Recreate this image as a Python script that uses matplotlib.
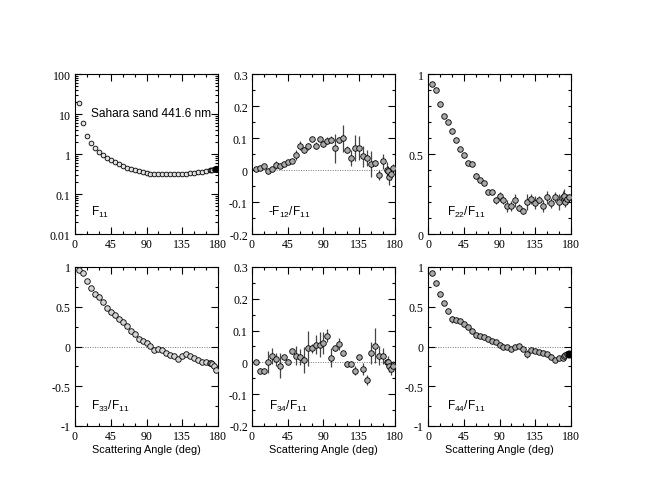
import matplotlib
matplotlib.use("Agg")
import matplotlib.pyplot as plt
from matplotlib.ticker import MultipleLocator, FixedLocator, LogLocator, NullFormatter

plt.rcParams["font.family"] = ["Liberation Sans", "DejaVu Sans"]
plt.rcParams["mathtext.fontset"] = "custom"
plt.rcParams["mathtext.rm"] = "Liberation Sans"
plt.rcParams["mathtext.it"] = "Liberation Sans"
plt.rcParams["axes.linewidth"] = 0.8

# scattering angles (deg)
angle = [5, 10, 15, 20, 25, 30, 35, 40, 45, 50, 55, 60, 65, 70, 75, 80, 85, 90,
         95, 100, 105, 110, 115, 120, 125, 130, 135, 140, 145, 150, 155, 160, 165,
         170, 171, 173, 175, 177]

f11 = [18.5, 5.9, 2.75, 1.85, 1.38, 1.12, 0.95, 0.81, 0.71, 0.62, 0.55, 0.50,
       0.455, 0.42, 0.39, 0.37, 0.35, 0.335, 0.325, 0.318, 0.313, 0.31, 0.31,
       0.31, 0.312, 0.315, 0.32, 0.325, 0.33, 0.34, 0.35, 0.36, 0.375, 0.39,
       0.395, 0.40, 0.41, 0.42]

f12 = [0.003, 0.005, 0.011, -0.002, 0.002, 0.015, 0.014, 0.019, 0.026, 0.027,
       0.047, 0.076, 0.062, 0.074, 0.097, 0.076, 0.097, 0.081, 0.092, 0.095,
       0.068, 0.093, 0.099, 0.064, 0.036, 0.068, 0.069, 0.043, 0.038, 0.018,
       0.021, -0.016, 0.027, 0.0, -0.002, -0.023, -0.012, 0.005]
f12_err = [0.005, 0.005, 0.005, 0.005, 0.005, 0.013, 0.005, 0.005, 0.005, 0.005,
           0.015, 0.015, 0.01, 0.01, 0.005, 0.01, 0.005, 0.01, 0.01, 0.01,
           0.045, 0.01, 0.043, 0.01, 0.025, 0.04, 0.038, 0.033, 0.025, 0.04,
           0.01, 0.015, 0.023, 0.025, 0.015, 0.025, 0.02, 0.015]

f22 = [0.94, 0.90, 0.81, 0.74, 0.70, 0.645, 0.59, 0.53, 0.495, 0.445, 0.435,
       0.365, 0.34, 0.32, 0.26, 0.265, 0.21, 0.235, 0.21, 0.175, 0.175, 0.21,
       0.165, 0.145, 0.20, 0.22, 0.195, 0.215, 0.175, 0.23, 0.195, 0.23, 0.20,
       0.23, 0.24, 0.20, 0.22, 0.23]
f22_err = [0.005, 0.005, 0.005, 0.005, 0.005, 0.005, 0.005, 0.005, 0.01, 0.01,
           0.01, 0.015, 0.01, 0.01, 0.01, 0.01, 0.02, 0.03, 0.02, 0.04, 0.03,
           0.04, 0.02, 0.02, 0.05, 0.03, 0.04, 0.02, 0.04, 0.04, 0.03, 0.03,
           0.05, 0.04, 0.04, 0.03, 0.03, 0.02]

f33 = [0.96, 0.93, 0.83, 0.73, 0.66, 0.62, 0.56, 0.49, 0.43, 0.39, 0.35, 0.31,
       0.26, 0.20, 0.16, 0.10, 0.07, 0.04, 0.01, -0.05, -0.03, -0.05, -0.08,
       -0.11, -0.12, -0.16, -0.115, -0.09, -0.115, -0.14, -0.17, -0.19, -0.20,
       -0.21, -0.21, -0.22, -0.24, -0.29]
f33_err = [0.01, 0.01, 0.01, 0.01, 0.01, 0.01, 0.01, 0.01, 0.01, 0.01, 0.01,
           0.01, 0.01, 0.01, 0.01, 0.01, 0.01, 0.01, 0.01, 0.01, 0.01, 0.01,
           0.01, 0.01, 0.01, 0.02, 0.01, 0.01, 0.01, 0.01, 0.01, 0.01, 0.01,
           0.01, 0.01, 0.02, 0.02, 0.02]

f34 = [0.002, -0.026, -0.028, 0.002, 0.021, 0.01, -0.01, 0.016, 0.002, 0.035,
       0.021, 0.018, 0.007, 0.044, 0.044, 0.055, 0.056, 0.06, 0.084, 0.014,
       0.045, 0.058, 0.028, -0.005, -0.005, -0.026, 0.016, -0.021, -0.055, 0.03,
       0.053, 0.021, 0.021, 0.0, 0.0, -0.01, -0.02, -0.01]
f34_err = [0.005, 0.008, 0.01, 0.035, 0.025, 0.02, 0.04, 0.008, 0.008, 0.008,
           0.03, 0.025, 0.04, 0.055, 0.015, 0.03, 0.04, 0.035, 0.02, 0.03,
           0.01, 0.02, 0.008, 0.01, 0.01, 0.015, 0.008, 0.02, 0.015, 0.035,
           0.055, 0.03, 0.025, 0.01, 0.02, 0.02, 0.02, 0.015]

f44 = [0.92, 0.80, 0.655, 0.545, 0.445, 0.34, 0.335, 0.325, 0.285, 0.25, 0.19,
       0.15, 0.13, 0.115, 0.10, 0.075, 0.055, 0.025, 0.0, 0.0, -0.03, 0.0,
       0.005, -0.03, -0.095, -0.04, -0.06, -0.07, -0.08, -0.10, -0.13, -0.17,
       -0.145, -0.145, -0.12, -0.11, -0.10, -0.10]
f44_err = [0.01, 0.01, 0.01, 0.01, 0.01, 0.04, 0.01, 0.01, 0.01, 0.01, 0.01,
           0.01, 0.01, 0.01, 0.01, 0.01, 0.01, 0.01, 0.01, 0.01, 0.01, 0.01,
           0.01, 0.01, 0.05, 0.01, 0.01, 0.01, 0.01, 0.02, 0.03, 0.03, 0.02,
           0.02, 0.02, 0.02, 0.02, 0.01]

x_ticks = [0, 45, 90, 135, 180]
y_ticks_small = [-0.2, -0.1, 0, 0.1, 0.2, 0.3]
y_labels_small = ["-0.2", "-0.1", "0", "0.1", "0.2", "0.3"]
y_ticks_unit = [-1, -0.5, 0, 0.5, 1]
y_labels_unit = ["-1", "-0.5", "0", "0.5", "1"]
TICK_FONT = dict(family="Liberation Serif", size=8.6)


def style_axis(ax, xlabel=False):
    ax.set_xlim(0, 180)
    ax.xaxis.set_major_locator(FixedLocator(x_ticks))
    ax.xaxis.set_minor_locator(MultipleLocator(15))
    ax.set_xticklabels([str(t) for t in x_ticks], **TICK_FONT)
    ax.tick_params(which="both", direction="in", top=True, right=True,
                   width=0.8, pad=3)
    ax.tick_params(which="major", length=5)
    ax.tick_params(which="minor", length=2.5)
    for lab in ax.get_yticklabels():
        lab.set_fontfamily("Liberation Serif")
        lab.set_fontsize(8.6)
    if xlabel:
        ax.set_xlabel("Scattering Angle (deg)", fontsize=7.8, labelpad=1)


def panel(ax, y, err, face, ms=4.0, last_black=False):
    n = len(y) - 1 if last_black else len(y)
    if err is None:
        ax.plot(angle[:n], y[:n], "o", ms=ms, mfc=face, mec="black", mew=0.6,
                zorder=3)
    else:
        ax.errorbar(angle[:n], y[:n], yerr=err[:n], fmt="o", ms=ms, mfc=face,
                    mec="black", mew=0.6, ecolor="#454545", elinewidth=0.9,
                    capsize=0, zorder=3)
    if last_black:
        ax.plot(angle[-1:], y[-1:], "o", ms=ms + 0.8, mfc="black", mec="black",
                zorder=4)


def lin_y(ax, lo, hi, ticks, labels, minor):
    ax.axhline(0, color="#777777", ls=(0, (1, 1.5)), lw=0.7, zorder=1)
    ax.yaxis.set_major_locator(FixedLocator(ticks))
    ax.yaxis.set_minor_locator(MultipleLocator(minor))
    ax.set_yticklabels(labels)
    ax.set_ylim(lo, hi)


fig = plt.figure(figsize=(6.5, 5.02), dpi=100)
W, H = 650.0, 502.0
lefts = [75, 252, 428]
pw = 143
rows = [(75, 235), (268, 427)]
axs = []
for top, bot in rows:
    for lx in lefts:
        axs.append(fig.add_axes([lx / W, 1 - bot / H, pw / W, (bot - top) / H]))

# F11
ax = axs[0]
ax.set_yscale("log")
panel(ax, f11, None, "#e2e2e2", ms=3.4, last_black=True)
ax.yaxis.set_major_locator(FixedLocator([0.01, 0.1, 1, 10, 100]))
ax.yaxis.set_minor_locator(LogLocator(base=10, subs=range(2, 10)))
ax.yaxis.set_minor_formatter(NullFormatter())
ax.set_yticklabels(["0.01", "0.1", "1", "10", "100"])
ax.set_ylim(0.01, 100)
ax.text(0.115, 0.755, "Sahara sand 441.6 nm", transform=ax.transAxes,
        fontsize=8.6, va="center")
ax.text(0.11, 0.14, r"$\mathregular{F_{11}}$", transform=ax.transAxes,
        fontsize=8.6, va="center")
style_axis(ax)

# -F12/F11
ax = axs[1]
panel(ax, f12, f12_err, "#a8a8a8")
lin_y(ax, -0.2, 0.3, y_ticks_small, y_labels_small, 0.05)
ax.text(0.11, 0.14, r"-$\mathregular{F_{12}/F_{11}}$", transform=ax.transAxes,
        fontsize=8.6, va="center")
style_axis(ax)

# F22/F11
ax = axs[2]
panel(ax, f22, f22_err, "#a8a8a8")
ax.yaxis.set_major_locator(FixedLocator([0, 0.5, 1]))
ax.yaxis.set_minor_locator(MultipleLocator(0.1))
ax.set_yticklabels(["0", "0.5", "1"])
ax.set_ylim(0, 1)
ax.text(0.13, 0.14, r"$\mathregular{F_{22}/F_{11}}$", transform=ax.transAxes,
        fontsize=8.6, va="center")
style_axis(ax)

# F33/F11
ax = axs[3]
panel(ax, f33, f33_err, "#d4d4d4")
lin_y(ax, -1, 1, y_ticks_unit, y_labels_unit, 0.25)
ax.text(0.11, 0.13, r"$\mathregular{F_{33}/F_{11}}$", transform=ax.transAxes,
        fontsize=8.6, va="center")
style_axis(ax, xlabel=True)

# F34/F11
ax = axs[4]
panel(ax, f34, f34_err, "#a8a8a8")
lin_y(ax, -0.2, 0.3, y_ticks_small, y_labels_small, 0.05)
ax.text(0.12, 0.13, r"$\mathregular{F_{34}/F_{11}}$", transform=ax.transAxes,
        fontsize=8.6, va="center")
style_axis(ax, xlabel=True)

# F44/F11
ax = axs[5]
panel(ax, f44, f44_err, "#a8a8a8", last_black=True)
lin_y(ax, -1, 1, y_ticks_unit, y_labels_unit, 0.25)
ax.text(0.13, 0.13, r"$\mathregular{F_{44}/F_{11}}$", transform=ax.transAxes,
        fontsize=8.6, va="center")
style_axis(ax, xlabel=True)

fig.savefig("out.png", dpi=100)
plt.close(fig)
